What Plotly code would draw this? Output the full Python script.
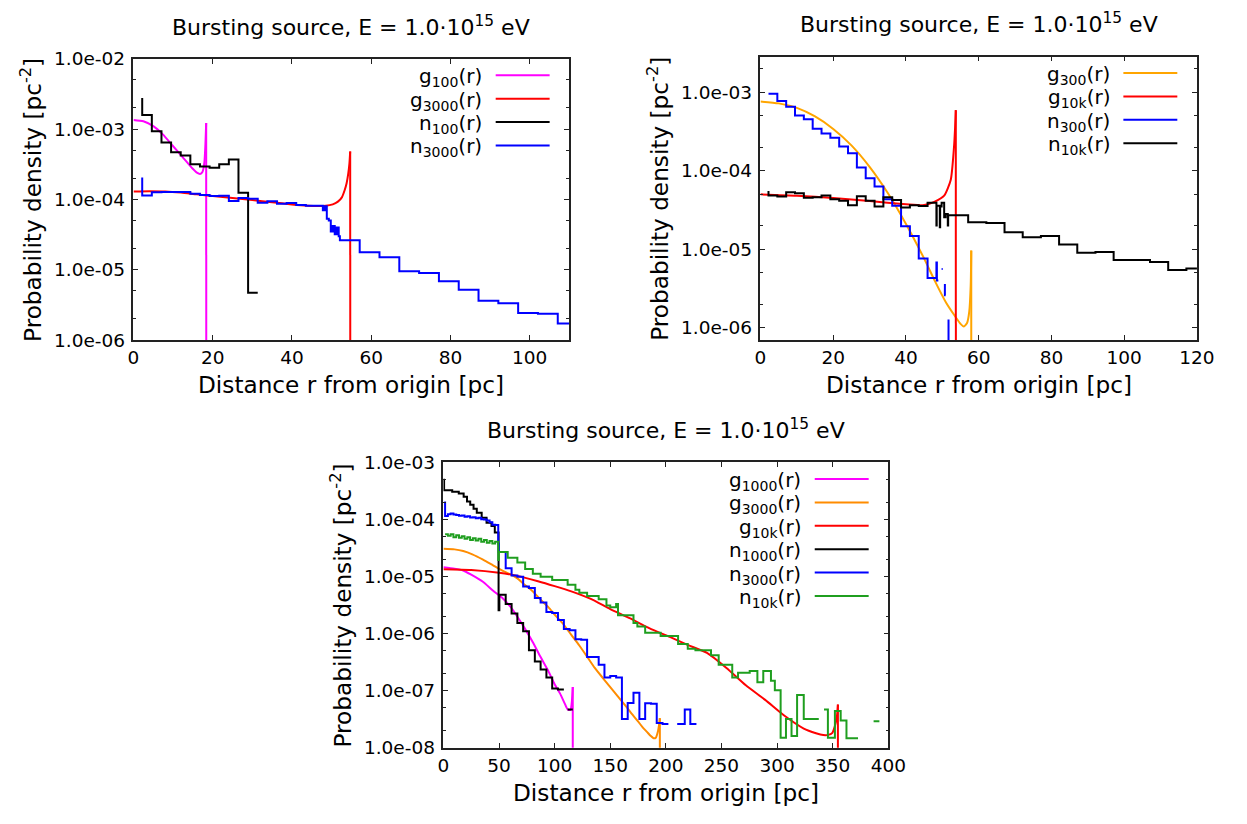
import plotly.graph_objects as go

W, H = 1247, 824
FONT = "DejaVu Sans"

# ======================= DATA =======================
# ---- top-left panel ----
tl_g100_r = [0, 2.5, 5.0, 7.4, 9.9, 12.4, 14.9, 16.0, 16.8, 17.4, 17.9, 18.15, 18.35, 18.4]
tl_g100_v = [1.35e-3, 1.29e-3, 1.10e-3, 8.4e-4, 5.8e-4, 4.0e-4, 2.75e-4, 2.4e-4, 2.3e-4, 2.45e-4, 3.4e-4, 6.0e-4, 1.22e-3, 1e-12]

tl_g3000_r = [0, 4, 8, 12, 16, 20, 25, 30, 35, 40, 44, 46.5, 48.5, 50.3, 51.6, 52.6, 53.3, 53.8, 54.2, 54.5, 54.7, 54.75]
tl_g3000_v = [1.30e-4, 1.31e-4, 1.30e-4, 1.25e-4, 1.18e-4, 1.12e-4, 1.05e-4, 9.8e-5, 9.1e-5, 8.5e-5, 8.15e-5, 8.05e-5, 8.1e-5, 8.5e-5, 9.3e-5, 1.07e-4, 1.35e-4, 1.7e-4, 2.3e-4, 3.2e-4, 4.8e-4, 1e-12]

tl_n100_r = [2.2, 2.2, 4.63, 7.06, 9.49, 11.92, 14.35, 16.78, 19.21, 21.64, 24.07, 26.5, 28.93, 31.36]
tl_n100_v = [2.76e-3, 1.59e-3, 9.33e-4, 6.43e-4, 4.68e-4, 4.21e-4, 3.16e-4, 2.95e-4, 2.83e-4, 3.16e-4, 3.70e-4, 1.24e-4, 4.7e-6, 4.7e-6]

tl_n3000_r = [2.2, 2.2, 4.63, 7.06, 9.49, 11.92, 14.35, 16.78, 19.21, 21.64, 24.07, 26.5, 28.93, 31.36,
              33.79, 36.22, 38.65, 41.08, 43.51, 45.94, 47.8, 48.3, 48.8, 49.3, 49.8, 50.3, 50.8, 51.3,
              51.8, 52.1, 57.1, 62.1, 67.1, 72.1, 77.1, 82.1, 87.1, 92.1, 97.1, 102.1, 107.1, 112.1]
tl_n3000_v = [2.05e-4, 1.14e-4, 1.26e-4, 1.28e-4, 1.28e-4, 1.28e-4, 1.20e-4, 1.16e-4, 1.12e-4, 1.13e-4,
              9.5e-5, 1.05e-4, 1.02e-4, 9.0e-5, 9.4e-5, 8.7e-5, 8.9e-5, 8.3e-5, 8.1e-5, 8.1e-5,
              7.0e-5, 8.0e-5, 5.3e-5, 5.0e-5, 3.5e-5, 4.2e-5, 3.2e-5, 4.0e-5, 3.0e-5,
              2.63e-5, 1.77e-5, 1.51e-5, 9.55e-6, 8.97e-6, 6.88e-6, 5.21e-6, 3.62e-6, 3.33e-6,
              2.42e-6, 2.37e-6, 1.72e-6, 1.72e-6]

# ---- top-right panel ----
tr_g300_r = [0, 5, 10, 15, 20, 25, 30, 35, 40, 45, 48, 51, 53.5, 55, 55.9, 56.8, 57.4, 57.8, 57.95, 58.0]
tr_g300_v = [7.6e-4, 7.2e-4, 6.3e-4, 4.9e-4, 3.4e-4, 2.1e-4, 1.12e-4, 5.2e-5, 2.1e-5, 7.6e-6, 3.9e-6,
             2.1e-6, 1.4e-6, 1.12e-6, 1.04e-6, 1.15e-6, 1.6e-6, 3.5e-6, 9.6e-6, 1e-12]

tr_g10k_r = [0, 10, 20, 30, 40, 45, 47.8, 50.5, 52.3, 53.2, 53.5, 53.7, 53.75]
tr_g10k_v = [5.0e-5, 4.8e-5, 4.5e-5, 4.1e-5, 3.75e-5, 3.65e-5, 4.0e-5, 4.8e-5, 7.6e-5, 1.98e-4, 3.5e-4, 5.9e-4, 1e-12]

tr_n300_r = [2.2, 4.63, 7.06, 9.49, 11.92, 14.35, 16.78, 19.21, 21.64, 24.07, 26.5, 28.93, 31.36, 33.79,
             36.22, 38.65, 41.08, 43.51, 45.94, 48.37, 48.5, 48.9, None, 49.8, 50.1, None,
             50.7, 50.7, 50.9, None, 51.7, 51.7]
tr_n300_v = [9.53e-4, 7.73e-4, 6.51e-4, 5.04e-4, 4.53e-4, 3.43e-4, 2.98e-4, 2.63e-4, 2.04e-4, 1.67e-4,
             1.10e-4, 8.02e-5, 6.31e-5, 4.32e-5, 3.57e-5, 1.96e-5, 1.47e-5, 7.62e-6, 4.3e-6, 6.8e-6,
             4.0e-6, 4.0e-6, None, 5.6e-6, 5.6e-6, None, 3.6e-6, 2.6e-6, 2.6e-6, None, 1.27e-6, 1e-12]

tr_n10k_r = [2.2, 2.2, 4.63, 7.06, 9.49, 11.92, 14.35, 16.78, 19.21, 21.64, 24.07, 26.5, 28.93, 31.36,
             33.79, 36.22, 38.65, 41.08, 43.51, 45.94, 48.37, 48.45, 49.3, 49.4, 49.8, 50.5, 50.9,
             51.5, 51.6, 57.1, 62.1, 67.1, 72.1, 77.1, 82.1, 87.1, 92.1, 97.1, 102.1, 107.1, 112.1,
             117.1, 122.1]
tr_n10k_v = [5.5e-5, 4.84e-5, 4.7e-5, 5.32e-5, 5.16e-5, 4.53e-5, 4.6e-5, 4.84e-5, 4.32e-5, 4.15e-5,
             3.63e-5, 4.73e-5, 4.15e-5, 3.5e-5, 4.6e-5, 4.22e-5, 3.4e-5, 3.63e-5, 3.55e-5, 3.9e-5,
             2.0e-5, 3.57e-5, 1.9e-5, 3.5e-5, 3.9e-5, 2.56e-5, 2.8e-5, 2.0e-5, 2.7e-5,
             2.2e-5, 2.15e-5, 1.65e-5, 1.42e-5, 1.47e-5, 1.15e-5, 9.0e-6, 9.2e-6, 7.3e-6,
             7.3e-6, 6.9e-6, 5.45e-6, 5.7e-6, 5.7e-6]

# ---- bottom panel ----
b_g1000_r = [0, 10, 17.8, 25, 35.2, 45, 52.6, 60, 66.5, 73, 80.4, 87, 94.3, 100, 104.8, 109, 111.7,
             114.2, 115.5, 116.3, 116.35]
b_g1000_v = [1.46e-5, 1.38e-5, 1.28e-5, 1.08e-5, 8.2e-6, 5.6e-6, 4.29e-6, 3.0e-6, 1.98e-6, 1.25e-6,
             7.05e-7, 4.0e-7, 2.21e-7, 1.3e-7, 8.96e-8, 6.0e-8, 4.7e-8, 4.6e-8, 6.5e-8, 1.16e-7, 1e-15]

b_g3000_r = [0, 10, 17.8, 26, 35.2, 44, 52.6, 60, 66.5, 73, 80.4, 87, 94.3, 101, 108.3, 115, 122.2,
             129, 136.1, 143, 150, 157, 164, 169, 174.4, 179, 183, 186.5, 189, 191, 192.8, 194,
             194.6, 194.65]
b_g3000_v = [3.08e-5, 3.0e-5, 2.8e-5, 2.45e-5, 2.0e-5, 1.6e-5, 1.28e-5, 1.1e-5, 9.3e-6, 7.2e-6, 5.5e-6,
             4.0e-6, 2.91e-6, 2.05e-6, 1.43e-6, 9.5e-7, 6.2e-7, 4.0e-7, 2.51e-7, 1.7e-7, 1.16e-7,
             7.9e-8, 5.35e-8, 4.0e-8, 2.99e-8, 2.3e-8, 1.9e-8, 1.6e-8, 1.47e-8, 1.5e-8, 1.9e-8,
             2.6e-8, 3.3e-8, 1e-15]

b_g10k_r = [0, 25, 50, 66.5, 85, 100, 115, 132, 150, 168, 185, 205, 220, 237, 254.5, 271.9, 289.3,
            306.7, 324, 335, 341.5, 346, 349.5, 352, 353.8, 354.7, 354.75]
b_g10k_v = [1.35e-5, 1.31e-5, 1.17e-5, 1.03e-5, 8.3e-6, 6.8e-6, 5.5e-6, 4.1e-6, 2.7e-6, 1.85e-6, 1.25e-6,
            8.5e-7, 6.3e-7, 4.6e-7, 2.5e-7, 1.24e-7, 6.9e-8, 3.63e-8, 2.17e-8, 1.8e-8, 1.67e-8,
            1.68e-8, 1.8e-8, 2.4e-8, 3.5e-8, 5.7e-8, 1e-15]

b_n1000_r = [0.6, 0.6, 7.9, 13.8, 18.2, 21.2, 24.1, 27.1, 30.0, 34.4, 38.8, 43.2, 46.2, 49.6, 50.3,
             56.0, 61.3, 66.5, 71.7, 76.9, 82.2, 87.4, 92.6, 97.8, 103.0, 108.3, None, 111.7, 116.3]
b_n1000_v = [5.19e-4, 3.27e-4, 3.07e-4, 2.87e-4, 2.52e-4, 2.07e-4, 1.81e-4, 1.55e-4, 1.31e-4, 1.07e-4,
             8.8e-5, 7.74e-5, 5.95e-5, 2.56e-6, 4.8e-6, 3.3e-6, 2.25e-6, 1.53e-6, 1.1e-6, 5.1e-7,
             3.25e-7, 2.35e-7, 1.71e-7, 1.09e-7, 1.05e-7, 1.05e-7, None, 4.7e-8, 4.7e-8]

b_n3000_r = [1.5, 1.5, 4, 6.5, 9, 11.5, 14, 16.5, 19, 21.5, 24, 26.5, 29, 31.5, 34, 36.5, 39, 41.5, 44,
             46.5, 49.3, 49.8, 56.0, 61.3, 66.5, 71.7, 76.9, 82.2, 87.4, 92.6, 97.8, 103.0, 108.3,
             113.5, 118.7, 123.9, 129.2, 134.4, 139.6, 144.8, 150.0, 155.3, 160.5, 165.7, 170.9,
             176.2, 181.4, 186.6, 191.8, 197.0, 202.3, None, 210.2, 217.0, 222.0, 227.5]
b_n3000_v = [2.07e-4, 1.15e-4, 1.24e-4, 1.27e-4, 1.22e-4, 1.2e-4, 1.16e-4, 1.18e-4, 1.12e-4, 1.14e-4,
             1.09e-4, 1.1e-4, 1.05e-4, 1.07e-4, 1.01e-4, 1.0e-4, 9.6e-5, 9.0e-5, 8.1e-5, 8.05e-5,
             3.8e-5, 2.7e-5, 1.4e-5, 1.05e-5, 9.9e-6, 6.7e-6, 6.3e-6, 4.2e-6, 3.5e-6, 2.4e-6, 2.3e-6,
             1.74e-6, 1.2e-6, 1.15e-6, 8.0e-7, 7.8e-7, 3.9e-7, 3.9e-7, 2.86e-7, 1.71e-7, 1.8e-7,
             1.71e-7, 3.2e-8, 6.1e-8, 9.2e-8, 3.2e-8, 6.0e-8, 5.9e-8, 2.7e-8, 2.6e-8, 2.6e-8, None,
             2.6e-8, 4.7e-8, 2.6e-8, 2.6e-8]

b_n10k_r = [1.5, 4, 6.5, 9, 11.5, 14, 16.5, 19, 21.5, 24, 26.5, 29, 31.5, 34, 36.5, 39, 41.5, 44, 46.5,
            49.3, 49.8, 57.8, 66.5, 73.5, 80.4, 87.4, 97.8, 111.7, 118.7, 122.2, 129.2, 139.6, 146.6,
            150.0, 155.3, 157.0, 170.9, 174.4, 181.4, 195.3, 211.0, 219.7, 226.6, 240.6, 247.5, 259.7,
            264.9, 275.4, 282.3, 287.6, 294.5, 298.0, 303.2, 308.0, 313.0, 318.0, 324.0, 337.5, None,
            342.2, 345.7, 352.0, 357.2, 362.4, 372.8, None, 386.8, 392.0]
b_n10k_v = [5.5e-5, 5.2e-5, 5.5e-5, 4.9e-5, 5.3e-5, 4.8e-5, 5.1e-5, 4.6e-5, 4.9e-5, 4.4e-5, 4.7e-5,
            4.3e-5, 4.6e-5, 4.1e-5, 4.4e-5, 3.9e-5, 4.2e-5, 3.8e-5, 4.1e-5, 1.95e-5, 2.7e-5, 2.14e-5,
            1.77e-5, 1.36e-5, 1.12e-5, 9.9e-6, 8.7e-6, 7.2e-6, 5.9e-6, 5.2e-6, 4.57e-6, 4.02e-6,
            3.1e-6, 2.91e-6, 3.31e-6, 2.11e-6, 1.53e-6, 1.34e-6, 1.04e-6, 9.1e-7, 6.6e-7, 5.45e-7,
            5.1e-7, 4.2e-7, 2.86e-7, 1.71e-7, 2.07e-7, 2.21e-7, 1.41e-7, 2.21e-7, 1.5e-7, 1.02e-7,
            1.5e-8, 3.2e-8, 1.6e-8, 8.4e-8, 3.2e-8, 3.2e-8, None, 4.7e-8, 1.5e-8, 4.4e-8, 3.0e-8,
            1.47e-8, 1.47e-8, None, 2.9e-8, 2.9e-8]

# tick labels
tl_xticks = [0, 20, 40, 60, 80, 100]
tr_xticks = [0, 20, 40, 60, 80, 100, 120]
b_xticks = [0, 50, 100, 150, 200, 250, 300, 350, 400]
tl_yexp = [-6, -5, -4, -3, -2]
tr_yexp = [-6, -5, -4, -3]
b_yexp = [-8, -7, -6, -5, -4, -3]

TITLE = "Bursting source, E = 1.0·10<sup>15</sup> eV"
XTITLE = "Distance r from origin [pc]"
YTITLE = "Probability density [pc<sup>-2</sup>]"

MAG, RED, BLK, BLU = "#ff00ff", "#ff0000", "#000000", "#0000ff"
ORA1, ORA2, GRN = "#ffa500", "#ff8c00", "#1f9e1f"

# ======================= FIGURE =======================
fig = go.Figure()


def add_line(r, v, color, xa, ya, shape="linear"):
    fig.add_trace(go.Scatter(x=r, y=v, mode="lines", xaxis=xa, yaxis=ya,
                             line=dict(color=color, width=2, shape=shape),
                             showlegend=False, connectgaps=False, hoverinfo="skip"))


def add_curve(r, v, color, xa, ya):
    # smooth part as spline, final drop as a straight segment
    fig.add_trace(go.Scatter(x=r[:-1], y=v[:-1], mode="lines", xaxis=xa, yaxis=ya,
                             line=dict(color=color, width=2, shape="spline", smoothing=0.6),
                             showlegend=False, hoverinfo="skip"))
    add_line(r[-2:], v[-2:], color, xa, ya)


# panel boxes in pixels: left, right, top, bottom
BOX_TL = (130, 574.3, 49, 337.7)
BOX_TR = (769.3, 1214.3, 46.7, 337.7)
BOX_B = (446, 899.6, 463.3, 756)

add_curve(tl_g100_r, tl_g100_v, MAG, "x", "y")
add_curve(tl_g3000_r, tl_g3000_v, RED, "x", "y")
add_line(tl_n100_r, tl_n100_v, BLK, "x", "y", "hv")
add_line(tl_n3000_r, tl_n3000_v, BLU, "x", "y", "hv")

add_curve(tr_g300_r, tr_g300_v, ORA1, "x2", "y2")
add_curve(tr_g10k_r, tr_g10k_v, RED, "x2", "y2")
add_line(tr_n300_r, tr_n300_v, BLU, "x2", "y2", "hv")
add_line(tr_n10k_r, tr_n10k_v, BLK, "x2", "y2", "hv")

add_curve(b_g1000_r, b_g1000_v, MAG, "x3", "y3")
add_curve(b_g3000_r, b_g3000_v, ORA2, "x3", "y3")
add_curve(b_g10k_r, b_g10k_v, RED, "x3", "y3")
add_line(b_n1000_r, b_n1000_v, BLK, "x3", "y3", "hv")
add_line(b_n3000_r, b_n3000_v, BLU, "x3", "y3", "hv")
add_line(b_n10k_r, b_n10k_v, GRN, "x3", "y3", "hv")

FRAME = "#222222"
TICKFONT = dict(family=FONT, size=18.5, color="black")


def xaxis_cfg(box, xr, xticks, anchor):
    L, R, T, B = box
    return dict(domain=[L / W, R / W], range=xr, anchor=anchor, tickmode="array",
                tickvals=xticks, ticktext=[str(t) for t in xticks], ticks="inside",
                ticklen=5, tickwidth=1.2, tickcolor=FRAME, showline=True, linecolor=FRAME,
                linewidth=1.5, mirror="ticks", showgrid=False, zeroline=False,
                tickfont=TICKFONT, ticklabelstandoff=0)


def yaxis_cfg(box, yr, exps, anchor):
    L, R, T, B = box
    vals = [10.0 ** e for e in exps]
    texts = ["1.0e-%02d" % (-e) for e in exps]
    lo = int(min(exps)) - 1
    hi = int(max(exps)) + 1
    minor = []
    for e in range(lo, hi + 1):
        for m in (2, 5):
            minor.append(m * 10.0 ** e)
    return dict(domain=[1 - B / H, 1 - T / H], type="log", range=yr, anchor=anchor,
                tickmode="array", tickvals=vals, ticktext=texts, ticks="inside", ticklen=5,
                tickwidth=1.2, tickcolor=FRAME, showline=True, linecolor=FRAME, linewidth=1.5,
                mirror="ticks", showgrid=False, zeroline=False, tickfont=TICKFONT,
                ticklabelstandoff=3,
                minor=dict(tickmode="array", tickvals=minor, ticks="inside", ticklen=3,
                           tickwidth=1.2, tickcolor=FRAME, showgrid=False))


fig.update_layout(
    width=W, height=H, margin=dict(l=0, r=0, t=0, b=0), autosize=False,
    paper_bgcolor="white", plot_bgcolor="white", showlegend=False,
    font=dict(family=FONT, color="black"),
    xaxis=xaxis_cfg(BOX_TL, [0, 110], tl_xticks, "y"),
    yaxis=yaxis_cfg(BOX_TL, [-6, -2], tl_yexp, "x"),
    xaxis2=xaxis_cfg(BOX_TR, [0, 120], tr_xticks, "y2"),
    yaxis2=yaxis_cfg(BOX_TR, [-6.157, -2.546], tr_yexp, "x2"),
    xaxis3=xaxis_cfg(BOX_B, [0, 400], b_xticks, "y3"),
    yaxis3=yaxis_cfg(BOX_B, [-8, -3], b_yexp, "x3"),
)


def px(xp):
    return xp / W


def py(yp):
    return 1 - yp / H


annotations = []
shapes = []


def panel_text(box):
    L, R, T, B = box
    cx = (L + R) / 2
    annotations.append(dict(text=TITLE, x=px(cx), y=py(T - 34), xref="paper", yref="paper",
                            xanchor="center", yanchor="middle", showarrow=False,
                            font=dict(family=FONT, size=22, color="black")))
    annotations.append(dict(text=XTITLE, x=px(cx), y=py(B + 46), xref="paper", yref="paper",
                            xanchor="center", yanchor="middle", showarrow=False,
                            font=dict(family=FONT, size=23.2, color="black")))
    annotations.append(dict(text=YTITLE, x=px(L - 104), y=py((T + B) / 2), xref="paper",
                            yref="paper", xanchor="center", yanchor="middle", showarrow=False,
                            textangle=-90, font=dict(family=FONT, size=23.2, color="black")))


def legend(box, labels, colors):
    L, R, T, B = box
    x1 = R - 20
    x0 = x1 - 55
    for i, (lab, col) in enumerate(zip(labels, colors)):
        yrow = T + 17 + 24 * i
        shapes.append(dict(type="line", xref="paper", yref="paper", x0=px(x0), x1=px(x1),
                           y0=py(yrow), y1=py(yrow), line=dict(color=col, width=2)))
        annotations.append(dict(text=lab, x=px(x0 - 12), y=py(yrow + 2), xref="paper",
                                yref="paper", xanchor="right", yanchor="middle",
                                showarrow=False,
                                font=dict(family=FONT, size=20, color="black")))


for box in (BOX_TL, BOX_TR, BOX_B):
    panel_text(box)

legend(BOX_TL, ["g<sub>100</sub>(r)", "g<sub>3000</sub>(r)", "n<sub>100</sub>(r)",
                "n<sub>3000</sub>(r)"], [MAG, RED, BLK, BLU])
legend(BOX_TR, ["g<sub>300</sub>(r)", "g<sub>10k</sub>(r)", "n<sub>300</sub>(r)",
                "n<sub>10k</sub>(r)"], [ORA1, RED, BLU, BLK])
legend(BOX_B, ["g<sub>1000</sub>(r)", "g<sub>3000</sub>(r)", "g<sub>10k</sub>(r)",
               "n<sub>1000</sub>(r)", "n<sub>3000</sub>(r)", "n<sub>10k</sub>(r)"],
       [MAG, ORA2, RED, BLK, BLU, GRN])

fig.update_layout(annotations=annotations, shapes=shapes)

fig.write_html("out.html")
